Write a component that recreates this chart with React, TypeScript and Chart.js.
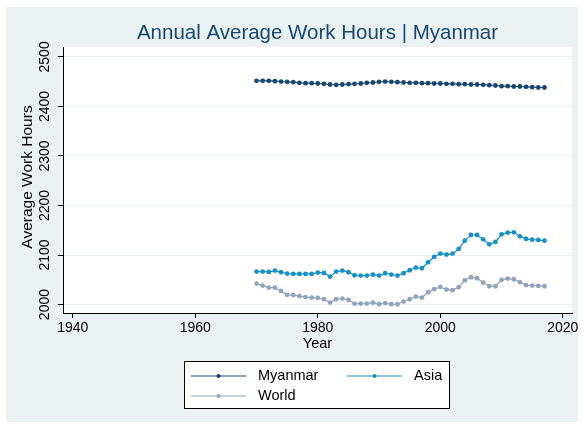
import React, { useEffect, useRef } from "react";
import { Chart, registerables } from "chart.js";

Chart.register(...registerables);

const years = [
  1970, 1971, 1972, 1973, 1974, 1975, 1976, 1977, 1978, 1979,
  1980, 1981, 1982, 1983, 1984, 1985, 1986, 1987, 1988, 1989,
  1990, 1991, 1992, 1993, 1994, 1995, 1996, 1997, 1998, 1999,
  2000, 2001, 2002, 2003, 2004, 2005, 2006, 2007, 2008, 2009,
  2010, 2011, 2012, 2013, 2014, 2015, 2016, 2017,
];

const myanmar = [
  2451.7, 2451.7, 2451.7, 2451.0, 2450.3, 2449.7, 2449.0, 2447.6, 2447.0, 2447.0,
  2446.3, 2445.6, 2444.3, 2443.6, 2444.3, 2445.0, 2445.6, 2446.3, 2447.6, 2448.3,
  2449.7, 2450.3, 2449.7, 2449.0, 2448.3, 2447.6, 2447.6, 2447.0, 2447.0, 2446.3,
  2446.3, 2445.6, 2445.6, 2445.0, 2445.0, 2444.3, 2444.3, 2443.6, 2443.0, 2442.3,
  2440.9, 2440.9, 2440.3, 2440.3, 2439.6, 2438.9, 2438.2, 2438.2,
];

const asia = [
  2066.6, 2066.6, 2065.9, 2068.6, 2065.3, 2062.6, 2061.9, 2061.9, 2061.9, 2061.9,
  2064.6, 2063.9, 2056.5, 2066.6, 2068.6, 2065.3, 2059.2, 2058.5, 2058.5, 2060.5,
  2058.5, 2063.2, 2060.5, 2058.5, 2063.2, 2069.3, 2074.7, 2073.3, 2085.4, 2096.2,
  2102.9, 2100.9, 2102.9, 2112.3, 2129.1, 2140.5, 2140.5, 2131.8, 2121.7, 2126.4,
  2141.9, 2145.2, 2145.9, 2137.8, 2132.5, 2131.1, 2130.4, 2129.1,
];

const world = [
  2042.4, 2038.4, 2034.3, 2034.3, 2027.6, 2019.6, 2018.9, 2016.9, 2014.9, 2014.2,
  2013.5, 2010.8, 2004.1, 2010.8, 2012.2, 2009.5, 2002.1, 2002.1, 2002.1, 2004.1,
  2000.7, 2002.8, 2000.7, 2000.7, 2006.1, 2010.8, 2016.2, 2014.2, 2024.9, 2031.0,
  2035.7, 2030.3, 2029.0, 2035.0, 2049.1, 2055.2, 2053.2, 2044.4, 2037.0, 2037.0,
  2049.8, 2052.5, 2051.1, 2045.1, 2039.1, 2038.4, 2037.7, 2037.0,
];

const seriesNames = ["Myanmar", "Asia", "World"];
const seriesColors = ["#1a476f", "#1890c6", "#90a4ba"];
const xTicks = [1940, 1960, 1980, 2000, 2020];
const yTicks = [2000, 2100, 2200, 2300, 2400, 2500];
const titleText = "Annual Average Work Hours | Myanmar";
const xTitle = "Year";
const yTitle = "Average Work Hours";

const FONT = "'Liberation Sans', Arial, Helvetica, sans-serif";

const decor = {
  id: "decor",
  beforeDraw(chart: any) {
    const ctx = chart.ctx;
    const { left, right, top, bottom } = chart.chartArea;
    ctx.save();
    ctx.fillStyle = "#ffffff";
    ctx.fillRect(0, 0, chart.width, chart.height);
    ctx.fillStyle = "#eaf1f3";
    ctx.fillRect(6, 7, 572, 415);
    ctx.fillStyle = "#ffffff";
    ctx.fillRect(left, top, right - left, bottom - top);
    ctx.restore();
  },
  afterDraw(chart: any) {
    const ctx = chart.ctx;
    const { left, right, top, bottom } = chart.chartArea;
    const cx = (left + right) / 2;
    const ys = chart.scales.y;
    ctx.save();
    // title
    ctx.fillStyle = "#1a476f";
    ctx.font = `20.5px ${FONT}`;
    ctx.textAlign = "center";
    ctx.textBaseline = "middle";
    ctx.fillText(titleText, cx, 33);
    // y tick labels rotated
    ctx.fillStyle = "#000";
    ctx.font = `14px ${FONT}`;
    for (const v of yTicks) {
      const py = ys.getPixelForValue(v);
      ctx.save();
      ctx.translate(45, py);
      ctx.rotate(-Math.PI / 2);
      ctx.fillText(String(v), 0, 0);
      ctx.restore();
    }
    // y title
    ctx.save();
    ctx.font = `15.5px ${FONT}`;
    ctx.translate(28, (top + bottom) / 2 - 3);
    ctx.rotate(-Math.PI / 2);
    ctx.fillText(yTitle, 0, 0);
    ctx.restore();
    // x title
    ctx.font = `14.5px ${FONT}`;
    ctx.fillText(xTitle, cx, 344);
    // legend
    const lx = 184.5, ly = 361.5, lw = 265, lh = 47;
    ctx.fillStyle = "#fff";
    ctx.fillRect(lx, ly, lw, lh);
    ctx.strokeStyle = "#000";
    ctx.lineWidth = 1;
    ctx.strokeRect(lx, ly, lw, lh);
    const slots = [
      { x: 191, y: 376 },
      { x: 347, y: 376 },
      { x: 191, y: 396 },
    ];
    chart.data.datasets.forEach((ds: any, i: number) => {
      const s = slots[i];
      ctx.strokeStyle = ds.borderColor;
      ctx.lineWidth = 1.2;
      ctx.beginPath();
      ctx.moveTo(s.x, s.y);
      ctx.lineTo(s.x + 55, s.y);
      ctx.stroke();
      ctx.fillStyle = ds.borderColor;
      ctx.beginPath();
      ctx.arc(s.x + 27.5, s.y, 2, 0, Math.PI * 2);
      ctx.fill();
      ctx.fillStyle = "#000";
      ctx.font = `14.5px ${FONT}`;
      ctx.textAlign = "left";
      ctx.textBaseline = "middle";
      ctx.fillText(ds.label, s.x + 67, s.y);
    });
    ctx.restore();
  },
};

export default function App() {
  const ref = useRef<HTMLCanvasElement>(null);
  useEffect(() => {
    document.body.style.margin = "0";
    const series = [myanmar, asia, world];
    const chart = new Chart(ref.current as HTMLCanvasElement, {
      type: "line",
      data: {
        datasets: series.map((vals, i) => ({
          label: seriesNames[i],
          data: years.map((yr, j) => ({ x: yr, y: vals[j] })),
          borderColor: seriesColors[i],
          backgroundColor: seriesColors[i],
          borderWidth: 1.2,
          pointRadius: 2.4,
          pointBorderWidth: 0,
          pointBackgroundColor: seriesColors[i],
          tension: 0,
          fill: false,
        })),
      },
      options: {
        animation: false,
        responsive: false,
        devicePixelRatio: 1,
        layout: { padding: { left: 0, top: 47, right: 12, bottom: 72 } },
        plugins: {
          legend: { display: false },
          title: { display: false },
          tooltip: { enabled: false },
        },
        scales: {
          x: {
            type: "linear",
            min: 1938.4,
            max: 2021.5,
            afterBuildTicks: (scale: any) => {
              scale.ticks = xTicks.map((v) => ({ value: v }));
            },
            afterFit: (scale: any) => {
              scale.height = 40;
            },
            grid: {
              drawOnChartArea: false,
              tickLength: 5,
              tickColor: "#000",
            },
            border: { display: true, color: "#000", width: 1 },
            ticks: {
              color: "#000",
              font: { family: FONT, size: 14 },
              padding: 2,
              maxRotation: 0,
              minRotation: 0,
              callback: (v: any) => String(v),
            },
          },
          y: {
            type: "linear",
            min: 1983,
            max: 2520,
            afterBuildTicks: (scale: any) => {
              scale.ticks = yTicks.map((v) => ({ value: v }));
            },
            afterFit: (scale: any) => {
              scale.width = 63;
            },
            grid: {
              color: "#eaf2f3",
              lineWidth: 1,
              tickLength: 5,
              tickColor: "#000",
            },
            border: { display: true, color: "#000", width: 1 },
            ticks: { display: false },
          },
        },
      },
      plugins: [decor],
    });
    return () => chart.destroy();
  }, []);
  return (
    <div style={{ width: 584, height: 425 }}>
      <canvas ref={ref} width={584} height={425} style={{ width: 584, height: 425 }} />
    </div>
  );
}
